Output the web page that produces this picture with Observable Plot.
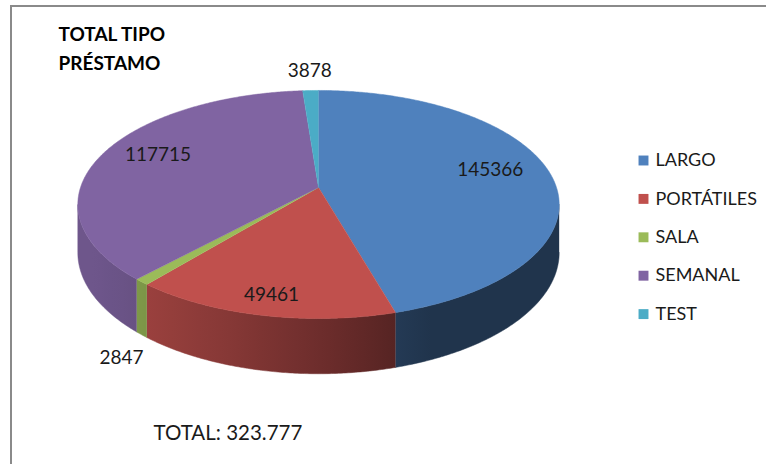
<!DOCTYPE html>
<html><head><meta charset="utf-8">
<script src="https://cdn.jsdelivr.net/npm/d3@7"></script>
<script src="https://cdn.jsdelivr.net/npm/@observablehq/plot@0.6"></script>
<style>
html,body{margin:0;padding:0;background:#fff;overflow:hidden;}
#wrap{position:relative;width:766px;height:464px;overflow:hidden;}
#border{position:absolute;left:10px;top:5px;width:800px;height:520px;border:2px solid #8a8a8a;pointer-events:none;}
</style></head><body>
<div id="wrap"><div id="chart"></div><div id="border"></div></div>
<script>
const categories = ["LARGO", "PORTÁTILES", "SALA", "SEMANAL", "TEST"];
const values = [145366, 49461, 2847, 117715, 3878];
const colors = ["#4f81bd", "#c0504d", "#9bbb59", "#8064a2", "#4bacc6"];
const titleLines = ["TOTAL TIPO", "PRÉSTAMO"];
const totalLabel = ["TOTAL: 323.777"];

// 3D pie geometry (perspective-projected ellipse)
const cx = 318, cy = 187, rx = 238, ry = 111.5, k = 0.149, depth = 47;
function proj(theta, r = 1, dz = 0) {
  const u = r * Math.sin(theta), v = -r * Math.cos(theta);
  const s = 1 / (1 - k * v);
  return [cx + rx * u * s, cy + ry * v * s + dz * s];
}
const total = d3.sum(values);
const arcs = d3.pie().sort(null).value(d => d)(values);
const step = Math.PI / 360;

// top faces
const topPts = [];
arcs.forEach((a, i) => {
  const id = "top" + i;
  topPts.push({id, c: colors[i], p: [cx, cy]});
  const n = Math.max(2, Math.ceil((a.endAngle - a.startAngle) / step));
  for (let j = 0; j <= n; j++) {
    const t = a.startAngle + (a.endAngle - a.startAngle) * j / n;
    topPts.push({id, c: colors[i], p: proj(t)});
  }
});

// side walls: one polygon per slice on the visible front, shaded by a gradient
function shadeF(t) {
  const deg = t * 180 / Math.PI;
  return Math.max(0.4, 0.42 + 0.44 * Math.cos((deg - 250) * Math.PI / 180));
}
function shade(col, t) {
  const f = shadeF(t), c = d3.rgb(col);
  return d3.rgb(c.r * f, c.g * f, c.b * f).formatHex();
}
const thetaR = Math.acos(-k), thetaL = 2 * Math.PI - thetaR;
const walls = [];
const wallPts = [];
arcs.forEach((a, i) => {
  const t0 = Math.max(a.startAngle, thetaR), t1 = Math.min(a.endAngle, thetaL);
  if (t0 >= t1) return;
  const id = "wg" + i;
  const n = Math.max(2, Math.ceil((t1 - t0) / step));
  const ts = d3.range(n + 1).map(j => t0 + (t1 - t0) * j / n);
  ts.forEach(t => wallPts.push({id, c: `url(#${id})`, p: proj(t)}));
  ts.slice().reverse().forEach(t => wallPts.push({id, c: `url(#${id})`, p: proj(t, 1, depth)}));
  const stops = d3.range(9).map(j => {
    const t = t0 + (t1 - t0) * j / 8;
    return {t, x: proj(t)[0], color: shade(colors[i], t)};
  });
  walls.push({id, x0: proj(t0)[0], x1: proj(t1)[0], stops});
});

// data labels
const labels = arcs.map((a, i) => {
  const mid = (a.startAngle + a.endAngle) / 2;
  const u = Math.sin(mid), v = -Math.cos(mid);
  if (values[i] / total < 0.03) {
    let [x, y] = proj(mid, 1);
    if (v > 0) y += depth / (1 - k * v);
    const push = 20 + 14 * Math.max(0, v);
    return {x: x + u * push, y: y + v * push, text: String(values[i])};
  }
  const r = 0.74 + 0.11 * Math.max(0, v);
  const [x, y] = proj(mid, r);
  return {x, y: y - 6 + 8 * Math.max(0, v), text: String(values[i])};
});

const chart = Plot.plot({
  width: 766, height: 464, margin: 0,
  x: {domain: [0, 766], range: [0, 766], axis: null},
  y: {domain: [0, 464], range: [0, 464], axis: null},
  color: {type: "identity"},
  style: {background: "transparent", fontFamily: "Lato, 'Open Sans', sans-serif", overflow: "visible"},
  marks: [
    Plot.line(wallPts, {x: d => d.p[0], y: d => d.p[1], z: "id", fill: "c", stroke: "c", strokeWidth: 0.5, curve: "linear"}),
    Plot.line(topPts, {x: d => d.p[0], y: d => d.p[1], z: "id", fill: "c", stroke: "c", strokeWidth: 0.5, curve: "linear"}),
    Plot.text(labels, {x: "x", y: "y", text: "text", fontSize: 19, fill: "#1a1a1a"}),
    Plot.text(titleLines, {x: 58, y: (d, i) => 34 + i * 29, text: d => d, textAnchor: "start", fontSize: 19, fontWeight: "bold", fill: "#000"}),
    Plot.dot(categories, {x: 643, y: (d, i) => 160 + i * 38.4, symbol: "square", r: 5.6, fill: (d, i) => colors[i], stroke: null}),
    Plot.text(categories, {x: 655, y: (d, i) => 160 + i * 38.4, text: d => d, textAnchor: "start", fontSize: 18, fill: "#1a1a1a"}),
    Plot.text(totalLabel, {x: 153, y: 433, text: d => d, textAnchor: "start", fontSize: 20.5, fill: "#1a1a1a"})
  ]
});

// gradient definitions for the walls, positioned through the x scale
const xs = chart.scale("x");
const svgNS = "http://www.w3.org/2000/svg";
const defs = document.createElementNS(svgNS, "defs");
walls.forEach(w => {
  const g = document.createElementNS(svgNS, "linearGradient");
  g.setAttribute("id", w.id);
  g.setAttribute("gradientUnits", "userSpaceOnUse");
  const X0 = xs.apply(w.x0), X1 = xs.apply(w.x1);
  g.setAttribute("x1", X0); g.setAttribute("x2", X1);
  g.setAttribute("y1", 0); g.setAttribute("y2", 0);
  w.stops.forEach(s => {
    const st = document.createElementNS(svgNS, "stop");
    const off = X1 === X0 ? 0 : (xs.apply(s.x) - X0) / (X1 - X0);
    st.setAttribute("offset", Math.max(0, Math.min(1, off)));
    st.setAttribute("stop-color", s.color);
    g.appendChild(st);
  });
  defs.appendChild(g);
});
chart.insertBefore(defs, chart.firstChild);
document.getElementById("chart").appendChild(chart);
</script>
</body></html>
